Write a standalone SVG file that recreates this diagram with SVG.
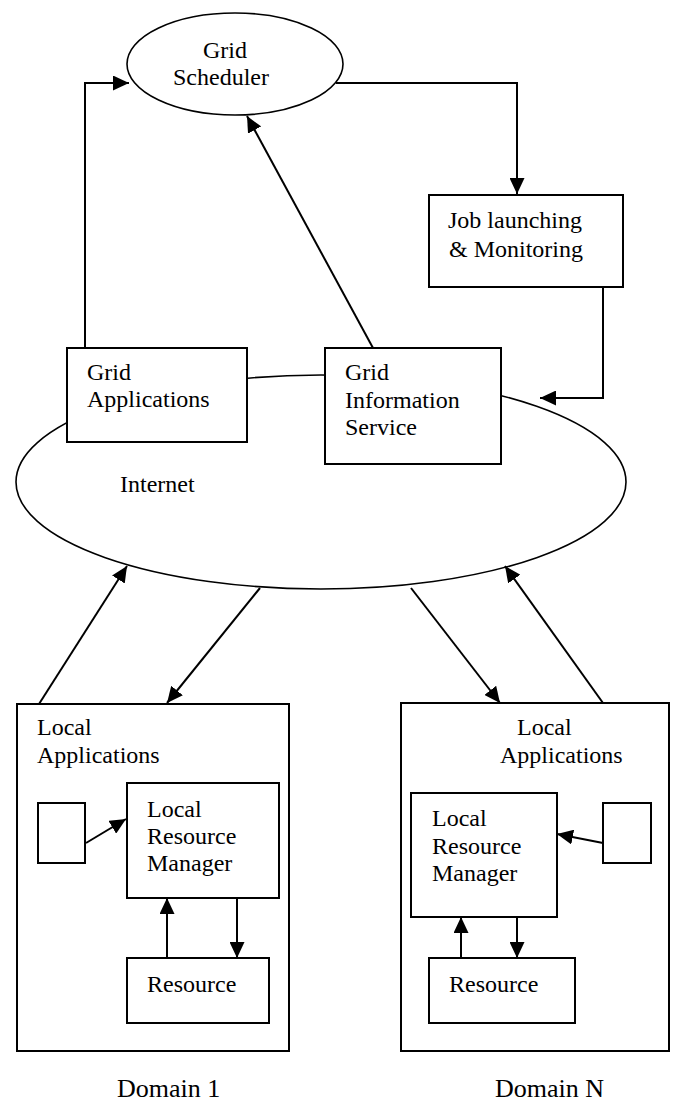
<svg xmlns="http://www.w3.org/2000/svg" width="673" height="1109" viewBox="0 0 673 1109">
<style>
  .box { fill: #fff; stroke: #000; stroke-width: 2; }
  .ell { fill: #fff; stroke: #000; stroke-width: 1.6; }
  .t { font-family: "Liberation Serif", "Times New Roman", serif; font-size: 24px; fill: #000; }
  .dt { font-family: "Liberation Serif", "Times New Roman", serif; font-size: 26px; fill: #000; }
  .c { fill: none; stroke: #000; stroke-width: 2; marker-end: url(#ah); }
</style>
<defs>
  <marker id="ah" markerUnits="userSpaceOnUse" markerWidth="16" markerHeight="15" refX="16" refY="7.5" orient="auto">
    <path d="M0,0 L16,7.5 L0,15 z" fill="#000"/>
  </marker>
</defs>
<rect width="673" height="1109" fill="#fff"/>

<g id="internet">
  <ellipse class="ell" cx="321" cy="482" rx="305" ry="107"/>
  <text class="t" x="120" y="492">Internet</text>
</g>

<g id="grid-scheduler">
  <ellipse class="ell" cx="235" cy="64" rx="108" ry="51"/>
  <text class="t" x="203" y="58">Grid</text>
  <text class="t" x="173" y="85">Scheduler</text>
</g>

<g id="job-launching">
  <rect class="box" x="429" y="195" width="194" height="92"/>
  <text class="t" x="448" y="228">Job launching</text>
  <text class="t" x="449" y="257">&amp; Monitoring</text>
</g>

<g id="grid-applications">
  <rect class="box" x="67" y="348" width="180" height="94"/>
  <text class="t" x="87" y="380">Grid</text>
  <text class="t" x="87" y="407">Applications</text>
</g>

<g id="grid-information-service">
  <rect class="box" x="325" y="348" width="176" height="116"/>
  <text class="t" x="345" y="380">Grid</text>
  <text class="t" x="345" y="408">Information</text>
  <text class="t" x="345" y="435">Service</text>
</g>

<g id="domain-1">
  <rect class="box" x="17" y="704" width="272" height="347"/>
  <text class="t" x="37" y="735">Local</text>
  <text class="t" x="37" y="763">Applications</text>
</g>
<g id="d1-app">
  <rect class="box" x="38" y="803" width="47" height="60"/>
</g>
<g id="d1-lrm">
  <rect class="box" x="127" y="783" width="152" height="115"/>
  <text class="t" x="147" y="817">Local</text>
  <text class="t" x="147" y="844">Resource</text>
  <text class="t" x="147" y="871">Manager</text>
</g>
<g id="d1-resource">
  <rect class="box" x="127" y="958" width="142" height="65"/>
  <text class="t" x="147" y="992">Resource</text>
</g>
<text class="dt" x="117" y="1097">Domain 1</text>

<g id="domain-n">
  <rect class="box" x="401" y="703" width="268" height="348"/>
  <text class="t" x="517" y="735">Local</text>
  <text class="t" x="500" y="763">Applications</text>
</g>
<g id="dn-app">
  <rect class="box" x="603" y="803" width="48" height="60"/>
</g>
<g id="dn-lrm">
  <rect class="box" x="411" y="793" width="146" height="124"/>
  <text class="t" x="432" y="826">Local</text>
  <text class="t" x="432" y="854">Resource</text>
  <text class="t" x="432" y="881">Manager</text>
</g>
<g id="dn-resource">
  <rect class="box" x="429" y="958" width="146" height="65"/>
  <text class="t" x="449" y="992">Resource</text>
</g>
<text class="dt" x="495" y="1097">Domain N</text>

<g id="connectors">
  <path class="c" d="M85,348 V83 H129"/>
  <path class="c" d="M336,83 H517 V194"/>
  <path class="c" d="M603,287 V398 H540"/>
  <path class="c" d="M373,348 L247,116"/>
  <path class="c" d="M39,704 L127,566"/>
  <path class="c" d="M260,588 L167,703"/>
  <path class="c" d="M411,588 L500,703"/>
  <path class="c" d="M603,703 L505,566"/>
  <path class="c" d="M86,843 L126,819"/>
  <path class="c" d="M167,958 V898"/>
  <path class="c" d="M237,898 V958"/>
  <path class="c" d="M603,843 L557,834"/>
  <path class="c" d="M461,958 V917"/>
  <path class="c" d="M517,917 V958"/>
</g>
</svg>
